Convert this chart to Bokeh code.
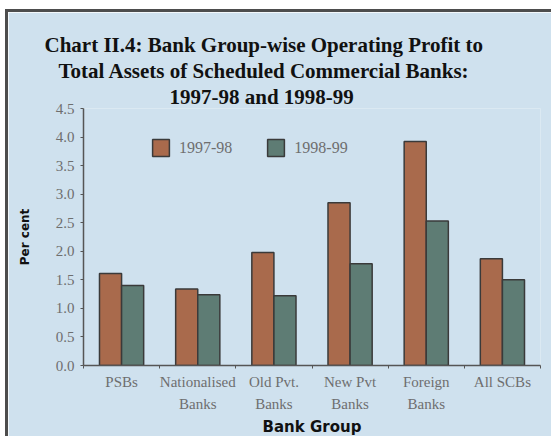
from bokeh.plotting import figure
from bokeh.models import (Range1d, LinearAxis, FixedTicker, Title,
                          ColumnDataSource, Legend, NumeralTickFormatter)
from bokeh.transform import dodge
from bokeh.embed import file_html
from bokeh.resources import INLINE

categories = ["PSBs", "Nationalised\nBanks", "Old Pvt.\nBanks", "New Pvt\nBanks", "Foreign\nBanks", "All SCBs"]
series_names = ["1997-98", "1998-99"]
values_1997_98 = [1.61, 1.34, 1.98, 2.85, 3.92, 1.87]
values_1998_99 = [1.40, 1.24, 1.22, 1.78, 2.53, 1.50]
y_ticks = [0.0, 0.5, 1.0, 1.5, 2.0, 2.5, 3.0, 3.5, 4.0, 4.5]
title_lines = ["Chart II.4: Bank Group-wise Operating Profit to",
               "Total Assets of Scheduled  Commercial Banks:",
               "1997-98 and 1998-99"]

BG = "#cfe1ee"
ORANGE = "#a96a4c"
GREEN = "#5e7c74"
TXT = "#6e6e6e"

n = len(categories)
centers = [i + 0.5 for i in range(n)]
boundaries = list(range(n + 1))
src = ColumnDataSource(dict(x=centers, a=values_1997_98, b=values_1998_99))

p = figure(width=546, height=427, x_range=Range1d(0, n),
           y_range=Range1d(0, 4.5), output_backend="svg", toolbar_location=None,
           x_axis_location=None, min_border_left=75, min_border_right=14,
           min_border_top=96, min_border_bottom=74)
p.styles = {"margin-left": "5px", "margin-top": "9px",
            "border-left": "3px solid #4d4d4d", "border-top": "3px solid #4d4d4d"}
p.background_fill_color = BG
p.border_fill_color = BG
p.outline_line_color = None
p.grid.visible = False

# invisible spacer between the plot area and the title block
spacer = LinearAxis(ticker=FixedTicker(ticks=[]), axis_line_color=None,
                    major_tick_line_color=None, minor_tick_line_color=None,
                    major_tick_in=0, major_tick_out=22, minor_tick_in=0, minor_tick_out=0,
                    major_label_standoff=0)
p.add_layout(spacer, "above")

title_offsets = [-39, -25, 86]
for line, off in reversed(list(zip(title_lines, title_offsets))):
    p.add_layout(Title(text=line, align="left", offset=off, text_font="Liberation Serif",
                       text_font_style="bold", text_font_size="21px",
                       text_color="#111111", standoff=0), "above")

r1 = p.vbar(x=dodge("x", -0.145), top="a", width=0.29, source=src,
            fill_color=ORANGE, line_color="#3a3a3a", line_width=1.5)
r2 = p.vbar(x=dodge("x", 0.145), top="b", width=0.29, source=src,
            fill_color=GREEN, line_color="#3a3a3a", line_width=1.5)

# y axis
ya = p.yaxis[0]
ya.ticker = FixedTicker(ticks=y_ticks)
ya.formatter = NumeralTickFormatter(format="0.0")
ya.axis_line_color = "#555555"
ya.axis_line_width = 1.5
ya.major_tick_in = 0
ya.major_tick_out = 3
ya.major_tick_line_color = "#555555"
ya.minor_tick_line_color = None
ya.major_label_text_font = "Liberation Serif"
ya.major_label_text_font_size = "15px"
ya.major_label_text_color = TXT
ya.major_label_standoff = 6
ya.axis_label = "Per cent"
ya.axis_label_text_font = "DejaVu Sans"
ya.axis_label_text_font_style = "bold"
ya.axis_label_text_font_size = "12px"
ya.axis_label_text_color = "#111111"
ya.axis_label_standoff = 21

# x axis: labels at category centres, minor ticks at category boundaries
xa = LinearAxis(ticker=FixedTicker(ticks=centers, minor_ticks=boundaries),
                major_label_overrides={c: lab for c, lab in zip(centers, categories)},
                axis_line_color="#555555", axis_line_width=1.5,
                major_tick_line_color=None, major_tick_in=0, major_tick_out=0,
                minor_tick_line_color="#555555", minor_tick_in=0, minor_tick_out=3,
                major_label_text_font="Liberation Serif",
                major_label_text_font_size="15px",
                major_label_text_color=TXT,
                major_label_text_line_height=1.4,
                major_label_standoff=5,
                axis_label="Bank Group",
                axis_label_text_font="DejaVu Sans",
                axis_label_text_font_style="bold",
                axis_label_text_font_size="15px",
                axis_label_text_color="#111111",
                axis_label_standoff=3)
p.add_layout(xa, "below")

legend = Legend(items=[(series_names[0], [r1]), (series_names[1], [r2])],
                orientation="horizontal", location=(67, 207),
                glyph_width=21, glyph_height=21, spacing=33, padding=0, margin=0,
                label_standoff=8, label_text_font="Liberation Serif",
                label_text_font_size="16px", label_text_color=TXT,
                border_line_color=None, background_fill_alpha=0)
p.add_layout(legend, "center")

open("out.html", "w").write(file_html(p, INLINE))
